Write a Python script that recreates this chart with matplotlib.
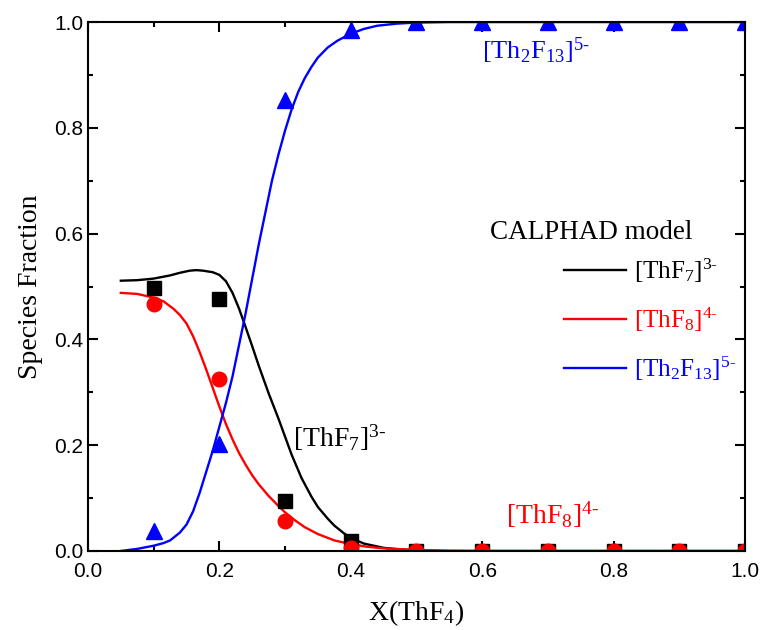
import numpy as np
import matplotlib
matplotlib.use('Agg')
import matplotlib.pyplot as plt
from matplotlib.ticker import MultipleLocator

plt.rcParams['mathtext.fontset'] = 'custom'
plt.rcParams['mathtext.rm'] = 'Liberation Serif'
plt.rcParams['mathtext.it'] = 'Liberation Serif:italic'

# measured points
x_pts = [0.1, 0.2, 0.3, 0.4, 0.5, 0.6, 0.7, 0.8, 0.9, 1.0]
thf7_pts = [0.497, 0.476, 0.095, 0.019, 0.0, 0.0, 0.0, 0.0, 0.0, 0.0]
thf8_pts = [0.467, 0.325, 0.057, 0.005, 0.0, 0.0, 0.0, 0.0, 0.0, 0.0]
th2f13_pts = [0.037, 0.202, 0.853, 0.985, 1.0, 1.0, 1.0, 1.0, 1.0, 1.0]

# CALPHAD model curves
x7 = [0.05, 0.075, 0.1, 0.125, 0.14, 0.155, 0.165, 0.175, 0.19, 0.2, 0.21, 0.22,
      0.23, 0.24, 0.25, 0.26, 0.275, 0.29, 0.3, 0.31, 0.325, 0.34, 0.35, 0.365,
      0.375, 0.39, 0.4, 0.42, 0.45, 0.475, 0.5, 0.55, 1.0]
thf7_fit = [0.511, 0.512, 0.515, 0.521, 0.526, 0.530, 0.531, 0.530, 0.527, 0.522, 0.510, 0.488,
            0.458, 0.423, 0.387, 0.350, 0.298, 0.250, 0.216, 0.182, 0.138, 0.103, 0.083, 0.061,
            0.048, 0.033, 0.025, 0.014, 0.006, 0.003, 0.001, 0.0, 0.0]
x8 = [0.05, 0.075, 0.1, 0.115, 0.13, 0.14, 0.15, 0.16, 0.17, 0.18, 0.19, 0.2, 0.21,
      0.22, 0.23, 0.24, 0.25, 0.26, 0.275, 0.29, 0.3, 0.315, 0.33, 0.35, 0.375, 0.4,
      0.425, 0.45, 0.5, 0.55, 0.6, 1.0]
thf8_fit = [0.488, 0.486, 0.479, 0.472, 0.458, 0.446, 0.430, 0.406, 0.376, 0.343, 0.308, 0.273, 0.240,
            0.211, 0.185, 0.163, 0.143, 0.126, 0.104, 0.085, 0.073, 0.058, 0.045, 0.032, 0.020, 0.013,
            0.008, 0.005, 0.002, 0.0005, 0.0, 0.0]
x13 = [0.05, 0.075, 0.1, 0.115, 0.125, 0.14, 0.15, 0.16, 0.17, 0.18, 0.19, 0.2, 0.21,
       0.22, 0.23, 0.24, 0.25, 0.26, 0.27, 0.28, 0.29, 0.3, 0.31, 0.32, 0.33, 0.34,
       0.35, 0.365, 0.38, 0.4, 0.42, 0.44, 0.47, 0.5, 0.55, 1.0]
th2f13_fit = [0.0, 0.004, 0.010, 0.015, 0.020, 0.035, 0.050, 0.075, 0.110, 0.150, 0.190, 0.235, 0.280,
              0.330, 0.390, 0.450, 0.515, 0.580, 0.640, 0.700, 0.750, 0.795, 0.835, 0.868, 0.894, 0.915,
              0.933, 0.952, 0.965, 0.978, 0.987, 0.993, 0.997, 0.999, 1.0, 1.0]

fig = plt.figure(figsize=(7.61, 6.3), dpi=100)
ax = fig.add_axes([0.1156, 0.1254, 0.8634, 0.8396])

ax.plot(x7, thf7_fit, color='black', lw=1.7, label=r'[ThF$_7$]$^{3\text{-}}$')
ax.plot(x8, thf8_fit, color='red', lw=1.7, label=r'[ThF$_8$]$^{4\text{-}}$')
ax.plot(x13, th2f13_fit, color='blue', lw=1.7, label=r'[Th$_2$F$_{13}$]$^{5\text{-}}$')

ax.plot(x_pts, thf7_pts, 's', color='black', ms=9.5, ls='none')
ax.plot(x_pts, thf8_pts, 'o', color='red', ms=10.5, ls='none')
ax.plot(x_pts, th2f13_pts, '^', color='blue', ms=11, ls='none')

ax.set_xlim(0, 1)
ax.set_ylim(0, 1)
ax.xaxis.set_minor_locator(MultipleLocator(0.1))
ax.yaxis.set_minor_locator(MultipleLocator(0.1))
ax.tick_params(which='both', direction='in', top=True, right=True, width=1.5)
ax.tick_params(which='major', length=7)
ax.tick_params(which='minor', length=3.5)
ax.tick_params(axis='x', pad=8)
for s in ax.spines.values():
    s.set_linewidth(1.5)

ticks = [0, 0.2, 0.4, 0.6, 0.8, 1.0]
tick_labels = ['0.0', '0.2', '0.4', '0.6', '0.8', '1.0']
ax.set_xticks(ticks)
ax.set_xticklabels(tick_labels, family='Liberation Sans', fontsize=15)
ax.set_yticks(ticks)
ax.set_yticklabels(tick_labels, family='Liberation Sans', fontsize=15)

ax.set_xlabel(r'X(ThF$_4$)', family='Liberation Serif', fontsize=20, labelpad=12)
ax.set_ylabel('Species Fraction', family='Liberation Serif', fontsize=20, labelpad=8)

ax.text(0.312, 0.215, r'[ThF$_7$]$^{3\text{-}}$', family='Liberation Serif', fontsize=20,
        color='black', va='center')
ax.text(0.636, 0.068, r'[ThF$_8$]$^{4\text{-}}$', family='Liberation Serif', fontsize=20,
        color='red', va='center')
ax.text(0.600, 0.945, r'[Th$_2$F$_{13}$]$^{5\text{-}}$', family='Liberation Serif', fontsize=19,
        color='blue', va='center')

ax.text(0.612, 0.603, 'CALPHAD model', family='Liberation Serif', fontsize=19.5,
        transform=ax.transAxes, va='center')
leg = ax.legend(loc='upper left', bbox_to_anchor=(0.724, 0.556), frameon=False,
                prop={'family': 'Liberation Serif', 'size': 18}, handlelength=2.5,
                handletextpad=0.33, labelspacing=0.82, borderpad=0, borderaxespad=0)
for t, c in zip(leg.get_texts(), ['black', 'red', 'blue']):
    t.set_color(c)

fig.savefig('out.png', dpi=100)
